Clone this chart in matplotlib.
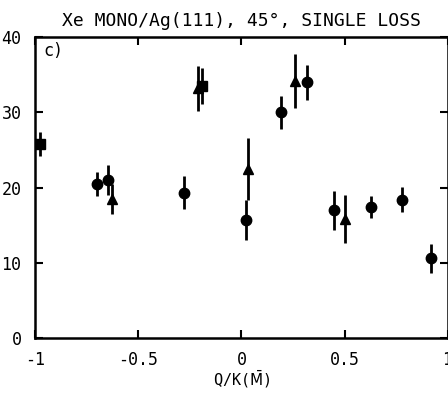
import numpy as np
import matplotlib.pyplot as plt

plt.rcParams['font.family'] = ['DejaVu Sans Mono', 'DejaVu Sans']

# circles
q_circ = [-0.70, -0.65, -0.28, 0.02, 0.19, 0.32, 0.45, 0.63, 0.78, 0.92]
e_circ = [20.5, 21.0, 19.3, 15.7, 30.0, 34.0, 17.0, 17.4, 18.4, 10.6]
err_circ = [1.6, 2.0, 2.2, 2.6, 2.2, 2.3, 2.6, 1.5, 1.7, 1.9]
# triangles
q_tri = [-0.63, -0.21, 0.03, 0.26, 0.50]
e_tri = [18.5, 33.2, 22.5, 34.2, 15.8]
err_tri = [2.0, 3.0, 4.1, 3.6, 3.2]
# squares
q_sq = [-0.98, -0.19]
e_sq = [25.8, 33.5]
err_sq = [1.6, 2.4]

fig = plt.figure(figsize=(4.48, 3.95), dpi=100)
ax = fig.add_axes([0.079, 0.144, 0.92, 0.762])

ax.errorbar(q_circ, e_circ, yerr=err_circ, fmt='o', color='black',
            ms=7.5, elinewidth=2, capsize=0)
ax.errorbar(q_tri, e_tri, yerr=err_tri, fmt='^', color='black',
            ms=7.5, elinewidth=2, capsize=0)
ax.errorbar(q_sq, e_sq, yerr=err_sq, fmt='s', color='black',
            ms=7.5, elinewidth=2, capsize=0)

ax.set_xlim(-1, 1)
ax.set_ylim(0, 40)
ax.set_xticks([-1, -0.5, 0, 0.5, 1])
ax.set_xticklabels(['-1', '-0.5', '0', '0.5', '1'])
ax.set_yticks([0, 10, 20, 30, 40])
ax.tick_params(direction='in', length=6, width=1.5, labelsize=12,
               top=True, right=True)
ax.tick_params(axis='x', pad=9)
ax.tick_params(axis='y', pad=10)
for s in ax.spines.values():
    s.set_linewidth(1.8)

ax.text(0.02, 0.985, 'c)', transform=ax.transAxes, fontsize=12,
        va='top', ha='left')
ax.set_title('Xe MONO/Ag(111), 45°, SINGLE LOSS', fontsize=13, pad=8)
ax.set_xlabel(r'Q/K($\bar{\mathrm{M}}$)', fontsize=11, labelpad=0)

fig.savefig('out.png', dpi=100)
